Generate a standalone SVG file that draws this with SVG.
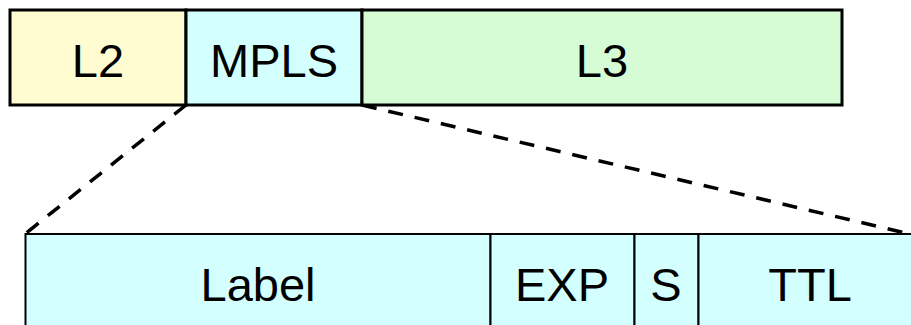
<svg xmlns="http://www.w3.org/2000/svg" width="911" height="325" viewBox="0 0 911 325">
<style>
.t{font-family:"Liberation Sans",Arial,sans-serif;font-size:47px;fill:#000;text-anchor:middle}
.top{stroke:#000;stroke-width:3}
.bot{stroke:#000;stroke-width:2}
.dash{stroke:#000;stroke-width:3.5;stroke-dasharray:15 12;fill:none}
</style>
<rect width="911" height="325" fill="#fff"/>
<g id="connectors">
<line class="dash" x1="186" y1="105" x2="25" y2="234"/>
<line class="dash" x1="362" y1="105" x2="910" y2="234"/>
</g>
<g id="L2"><rect class="top" x="10" y="10" width="176" height="95" fill="#FFFCD2"/><text class="t" x="98" y="77">L2</text></g>
<g id="MPLS"><rect class="top" x="186" y="10" width="176" height="95" fill="#D4FFFF"/><text class="t" x="274" y="77">MPLS</text></g>
<g id="L3"><rect class="top" x="362" y="10" width="480" height="95" fill="#D6FCD6"/><text class="t" x="602" y="77">L3</text></g>
<g id="Label"><rect class="bot" x="25.5" y="234" width="465" height="100" fill="#D4FFFF"/><text class="t" x="258" y="301">Label</text></g>
<g id="EXP"><rect class="bot" x="490.5" y="234" width="144" height="100" fill="#D4FFFF"/><text class="t" x="562" y="301">EXP</text></g>
<g id="S"><rect class="bot" x="634.5" y="234" width="64" height="100" fill="#D4FFFF"/><text class="t" x="666" y="301">S</text></g>
<g id="TTL"><rect class="bot" x="698.5" y="234" width="230" height="100" fill="#D4FFFF"/><text class="t" x="810" y="301">TTL</text></g>
</svg>
